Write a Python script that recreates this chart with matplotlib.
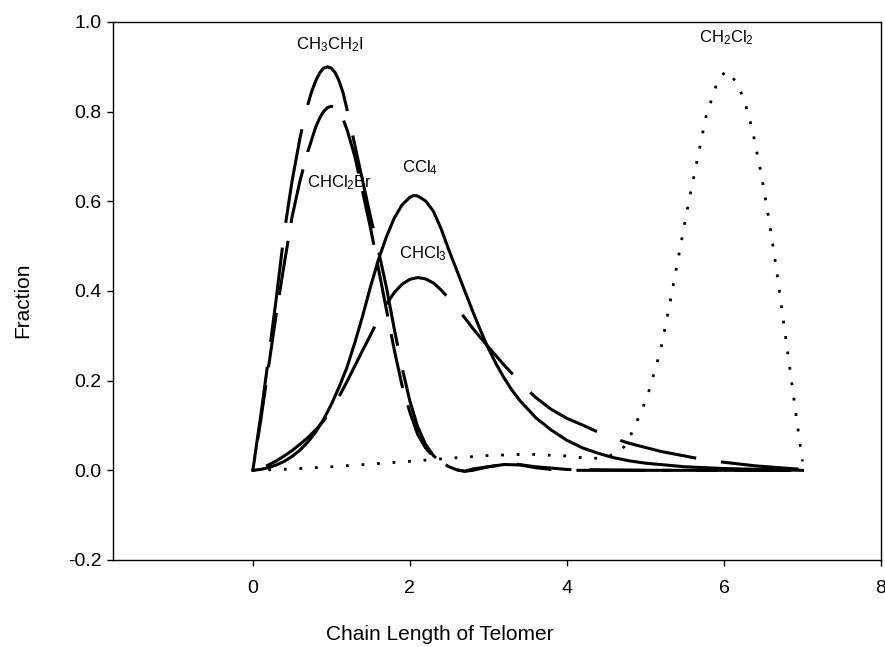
import matplotlib
matplotlib.use("Agg")
import matplotlib.pyplot as plt
import numpy as np

plt.rcParams['font.family'] = ['Liberation Sans', 'DejaVu Sans']
plt.rcParams['mathtext.fontset'] = 'custom'
plt.rcParams['mathtext.rm'] = 'Liberation Sans'
plt.rcParams['mathtext.it'] = 'Liberation Sans'
plt.rcParams['mathtext.default'] = 'regular'
plt.rcParams['axes.unicode_minus'] = False

# ---- data ----
x_ch3ch2i = [0, 0.1, 0.2, 0.3, 0.4, 0.5, 0.6, 0.65, 0.7, 0.75, 0.8, 0.85, 0.9, 0.95, 1.0, 1.05,
             1.1, 1.15, 1.2, 1.3, 1.4, 1.5, 1.6, 1.7, 1.8, 1.9, 2.0, 2.1, 2.2, 2.3, 2.4, 2.5,
             2.6, 2.7, 2.8, 3.0, 3.2, 3.4, 3.6, 3.8, 4.0, 5.0, 6.0, 7.0]
y_ch3ch2i = [0, 0.12, 0.25, 0.385, 0.53, 0.645, 0.74, 0.78, 0.815, 0.845, 0.868, 0.886, 0.897,
             0.90, 0.897, 0.887, 0.868, 0.842, 0.805, 0.725, 0.645, 0.565, 0.49, 0.41, 0.317,
             0.23, 0.155, 0.097, 0.058, 0.033, 0.017, 0.007, 0.001, -0.002, 0.003, 0.008,
             0.013, 0.012, 0.006, 0.002, 0.0, 0.0, 0.0, 0.0]

x_chcl2br = [0, 0.1, 0.2, 0.3, 0.4, 0.5, 0.6, 0.7, 0.8, 0.85, 0.9, 0.95, 1.0, 1.05, 1.1, 1.15,
             1.2, 1.3, 1.4, 1.5, 1.6, 1.7, 1.8, 1.9, 2.0, 2.1, 2.2, 2.3, 2.4, 2.5, 2.6, 2.7,
             2.8, 3.0, 3.3, 3.6, 4.0, 5.0, 6.0, 7.0]
y_chcl2br = [0, 0.11, 0.23, 0.35, 0.46, 0.565, 0.645, 0.71, 0.765, 0.785, 0.80, 0.809, 0.812,
             0.809, 0.80, 0.783, 0.76, 0.70, 0.62, 0.54, 0.45, 0.36, 0.27, 0.19, 0.13, 0.08,
             0.05, 0.03, 0.018, 0.008, 0.001, -0.002, 0.0, 0.008, 0.015, 0.008, 0.002, 0.0,
             0.0, 0.0]

x_ccl4 = [0, 0.1, 0.2, 0.3, 0.4, 0.5, 0.6, 0.7, 0.8, 0.9, 1.0, 1.1, 1.2, 1.3, 1.4, 1.5, 1.6,
          1.7, 1.8, 1.9, 2.0, 2.05, 2.1, 2.2, 2.3, 2.4, 2.5, 2.6, 2.7, 2.8, 2.9, 3.0, 3.1, 3.2,
          3.3, 3.4, 3.6, 3.8, 4.0, 4.2, 4.4, 4.6, 4.8, 5.0, 5.5, 6.0, 6.5, 7.0]
y_ccl4 = [0, 0.002, 0.006, 0.012, 0.02, 0.031, 0.045, 0.063, 0.085, 0.113, 0.147, 0.186, 0.23,
          0.285, 0.345, 0.41, 0.47, 0.52, 0.562, 0.592, 0.609, 0.613, 0.612, 0.601, 0.578,
          0.538, 0.49, 0.445, 0.40, 0.355, 0.312, 0.272, 0.237, 0.206, 0.179, 0.156, 0.118,
          0.09, 0.067, 0.05, 0.038, 0.028, 0.021, 0.016, 0.008, 0.004, 0.002, 0.0]

x_chcl3 = [0, 0.1, 0.2, 0.3, 0.4, 0.5, 0.6, 0.7, 0.8, 0.9, 1.0, 1.1, 1.2, 1.3, 1.4, 1.5, 1.6,
           1.7, 1.8, 1.9, 2.0, 2.1, 2.2, 2.3, 2.4, 2.5, 2.6, 2.7, 2.8, 2.9, 3.0, 3.2, 3.4, 3.6,
           3.8, 4.0, 4.2, 4.4, 4.6, 4.8, 5.0, 5.2, 5.5, 5.8, 6.1, 6.4, 6.7, 7.0]
y_chcl3 = [0, 0.005, 0.012, 0.021, 0.032, 0.044, 0.058, 0.073, 0.09, 0.11, 0.135, 0.165, 0.198,
           0.233, 0.268, 0.302, 0.337, 0.37, 0.396, 0.415, 0.426, 0.43, 0.427, 0.418, 0.402,
           0.383, 0.362, 0.34, 0.317, 0.296, 0.275, 0.235, 0.197, 0.163, 0.136, 0.116, 0.101,
           0.085, 0.071, 0.06, 0.051, 0.042, 0.032, 0.022, 0.016, 0.01, 0.006, 0.002]

x_ch2cl2 = [0, 0.5, 1.0, 1.5, 2.0, 2.5, 3.0, 3.5, 4.0, 4.3, 4.5, 4.65, 4.75, 4.85, 5.02, 5.19,
            5.31, 5.42, 5.53, 5.65, 5.77, 5.90, 5.96, 6.03, 6.09, 6.15, 6.25, 6.36, 6.48, 6.58,
            6.67, 6.75, 6.83, 6.91, 7.0]
y_ch2cl2 = [0, 0.003, 0.008, 0.014, 0.02, 0.027, 0.033, 0.036, 0.032, 0.026, 0.029, 0.04, 0.056,
            0.092, 0.162, 0.266, 0.371, 0.475, 0.579, 0.684, 0.788, 0.858, 0.878, 0.891, 0.882,
            0.866, 0.831, 0.761, 0.656, 0.552, 0.447, 0.343, 0.239, 0.134, 0.02]

labels = [r'CH$_3$CH$_2$I', r'CHCl$_2$Br', r'CCl$_4$', r'CHCl$_3$', r'CH$_2$Cl$_2$']
label_x = [0.98, 1.10, 2.13, 2.16, 6.03]
label_y = [0.94, 0.631, 0.664, 0.474, 0.954]

x_ticks = [0, 2, 4, 6, 8]
y_ticks = [-0.2, 0.0, 0.2, 0.4, 0.6, 0.8, 1.0]

# ---- figure ----
DPI = 100
fig = plt.figure(figsize=(8.85, 6.47), dpi=DPI)
ax = fig.add_axes([113/885, 87/647, 768/885, 538/647])
ax.set_xlim(-1.78, 8.0)
ax.set_ylim(-0.2, 1.0)

lw = 2.2
unit_px = lw * DPI / 72.0


def dashed(x, y, dash_px, gap_px, start_x):
    """dash pattern (in px) whose 'on' phase begins at data point start_x"""
    pts = ax.transData.transform(np.column_stack([x, y]))
    seg = np.hypot(np.diff(pts[:, 0]), np.diff(pts[:, 1]))
    cum = np.concatenate([[0], np.cumsum(seg)])
    L = cum[list(x).index(start_x)]
    period = dash_px + gap_px
    off_px = (-L) % period
    return (off_px / unit_px, (dash_px / unit_px, gap_px / unit_px))


ax.plot(x_ch3ch2i, y_ch3ch2i, color='black', lw=lw,
        linestyle=dashed(x_ch3ch2i, y_ch3ch2i, 95, 25, 0.7))
ax.plot(x_chcl2br, y_chcl2br, color='black', lw=lw,
        linestyle=dashed(x_chcl2br, y_chcl2br, 55, 18, 0.7))
ax.plot(x_ccl4, y_ccl4, color='black', lw=lw, linestyle='-')
ax.plot(x_chcl3, y_chcl3, color='black', lw=lw,
        linestyle=dashed(x_chcl3, y_chcl3, 78, 25, 1.7))
ax.plot(x_ch2cl2, y_ch2cl2, color='black', lw=2.0, linestyle=(0, (1, 4.6)))

for t, xx, yy in zip(labels, label_x, label_y):
    ax.text(xx, yy, t, ha='center', va='baseline', fontsize=12)

ax.set_xticks(x_ticks)
ax.set_yticks(y_ticks)
ax.set_xticklabels([str(v) for v in x_ticks])
ax.set_yticklabels(['%.1f' % v for v in y_ticks])
ax.tick_params(axis='both', direction='out', length=4.5, width=1, labelsize=14)
ax.tick_params(axis='x', pad=10)
ax.tick_params(axis='y', pad=3.6)
for s in ax.spines.values():
    s.set_linewidth(1.0)

ax.set_xlabel('Chain Length of Telomer', fontsize=15, va='center')
ax.xaxis.set_label_coords(0.425, -0.139)
ax.set_ylabel('Fraction', fontsize=15, va='center')
ax.yaxis.set_label_coords(-0.118, 0.483)

fig.savefig('out.png', dpi=DPI)
